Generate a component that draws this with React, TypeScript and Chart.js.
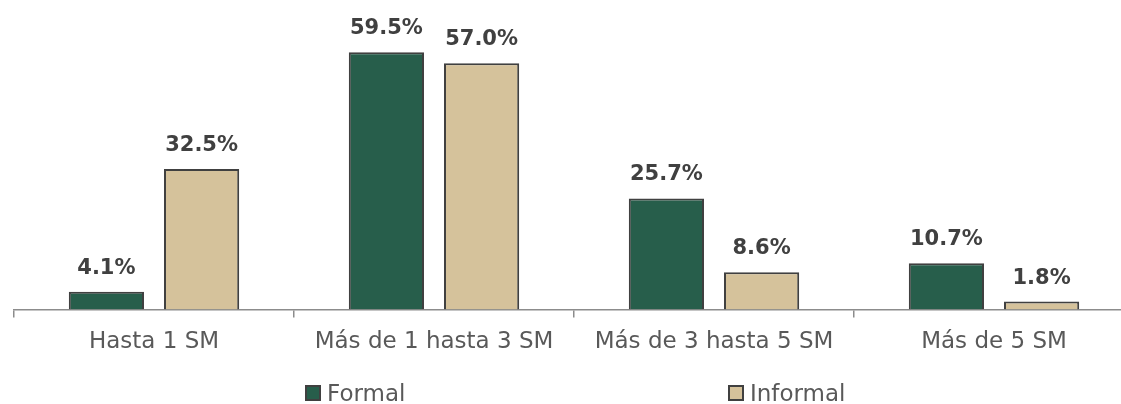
import React, { useEffect, useRef } from "react";
import { Chart, registerables } from "chart.js";

Chart.register(...registerables);

const categories = ["Hasta 1 SM", "Más de 1 hasta 3 SM", "Más de 3 hasta 5 SM", "Más de 5 SM"];
const formalValues = [4.1, 59.5, 25.7, 10.7];
const informalValues = [32.5, 57.0, 8.6, 1.8];
const seriesNames = ["Formal", "Informal"];
const seriesColors = ["#275e4b", "#d5c29b"];
const FONT = "'DejaVu Sans', sans-serif";

const valueLabels = {
  id: "valueLabels",
  afterDatasetsDraw(chart: any) {
    const ctx = chart.ctx;
    ctx.save();
    ctx.font = `bold 21px ${FONT}`;
    ctx.fillStyle = "#404040";
    ctx.textAlign = "center";
    ctx.textBaseline = "alphabetic";
    chart.data.datasets.forEach((ds: any, i: number) => {
      const meta = chart.getDatasetMeta(i);
      meta.data.forEach((bar: any, j: number) => {
        ctx.fillText(ds.data[j].toFixed(1) + "%", bar.x, bar.y - 18);
      });
    });
    ctx.restore();
  },
};

const customLegend = {
  id: "customLegend",
  afterDraw(chart: any) {
    const ctx = chart.ctx;
    const area = chart.chartArea;
    const mid = (area.left + area.right) / 2;
    const xs = [mid - 268, mid + 155];
    const baseline = 401;
    ctx.save();
    ctx.font = `23px ${FONT}`;
    ctx.textBaseline = "alphabetic";
    ctx.textAlign = "left";
    seriesNames.forEach((name, i) => {
      ctx.fillStyle = seriesColors[i];
      ctx.fillRect(xs[i], baseline - 15, 14, 14);
      ctx.strokeStyle = "#404040";
      ctx.lineWidth = 2;
      ctx.strokeRect(xs[i], baseline - 15, 14, 14);
      ctx.fillStyle = "#595959";
      ctx.fillText(name, xs[i] + 21, baseline);
    });
    ctx.restore();
  },
};

export default function App() {
  const ref = useRef<HTMLCanvasElement>(null);
  useEffect(() => {
    if (!ref.current) return;
    const ds = (i: number, data: number[]) => ({
      label: seriesNames[i],
      data,
      backgroundColor: seriesColors[i],
      borderColor: "#404040",
      borderWidth: 2,
      categoryPercentage: 0.68,
      barPercentage: 0.79,
    });
    const chart = new Chart(ref.current, {
      type: "bar",
      data: {
        labels: categories,
        datasets: [ds(0, formalValues), ds(1, informalValues)],
      },
      options: {
        animation: false,
        responsive: false,
        maintainAspectRatio: false,
        devicePixelRatio: 1,
        layout: { padding: { left: 14, right: 0, top: 7, bottom: 37 } },
        plugins: { legend: { display: false }, tooltip: { enabled: false } },
        scales: {
          x: {
            grid: {
              offset: true,
              drawOnChartArea: false,
              drawTicks: true,
              tickLength: 8,
              color: "#8c8c8c",
              lineWidth: 1.5,
            },
            border: { display: true, color: "#8c8c8c", width: 1.5 },
            ticks: {
              color: "#595959",
              font: { family: FONT, size: 23 },
              padding: 11,
              maxRotation: 0,
            },
          },
          y: {
            display: false,
            min: 0,
            max: 70,
          },
        },
      },
      plugins: [valueLabels, customLegend],
    });
    return () => chart.destroy();
  }, []);
  return (
    <div style={{ position: "absolute", left: 0, top: 0, width: 1121, height: 404, overflow: "hidden", background: "#fff" }}>
      <canvas ref={ref} width={1134} height={404} style={{ width: 1134, height: 404, display: "block" }} />
    </div>
  );
}
